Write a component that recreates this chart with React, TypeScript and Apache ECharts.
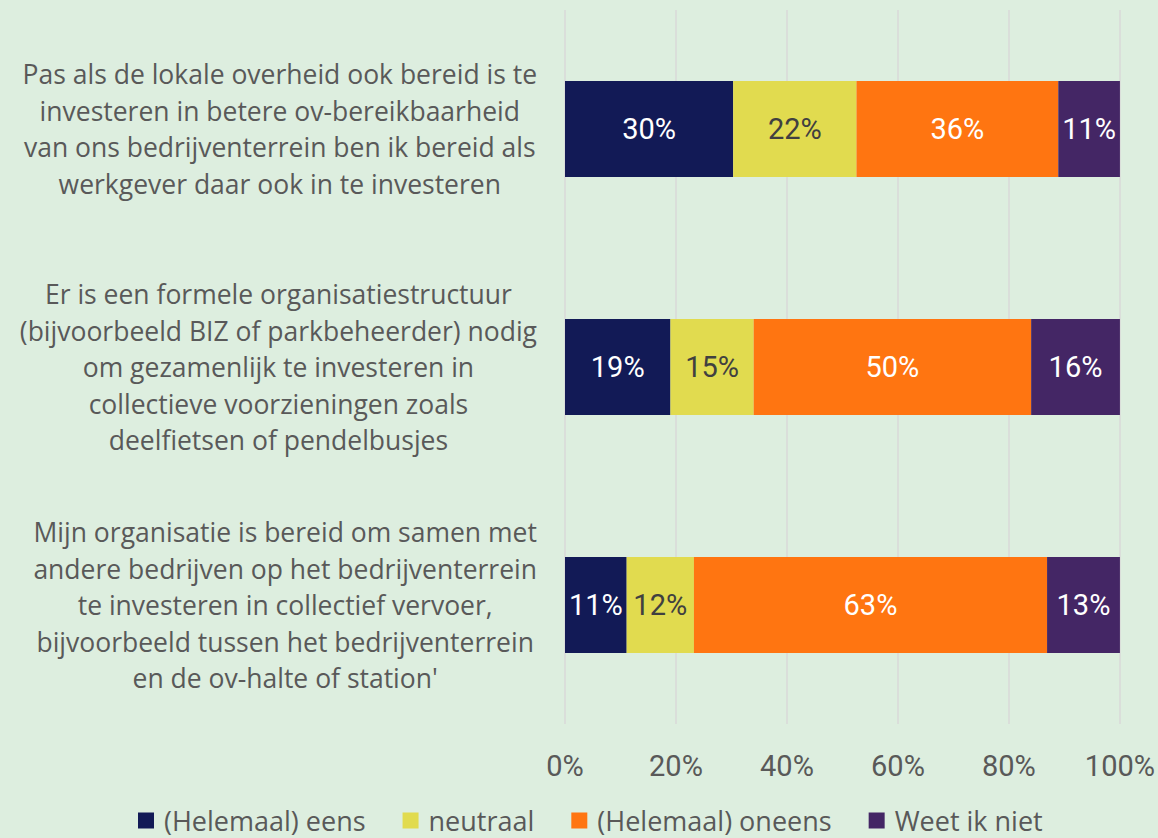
import React, { useEffect, useRef } from "react";
import * as echarts from "echarts";

const categories = [
  "Pas als de lokale overheid ook bereid is te\ninvesteren in betere ov-bereikbaarheid\nvan ons bedrijventerrein ben ik bereid als\nwerkgever daar ook in te investeren",
  "Er is een formele organisatiestructuur\n(bijvoorbeeld BIZ of parkbeheerder) nodig\nom gezamenlijk te investeren in\ncollectieve voorzieningen zoals\ndeelfietsen of pendelbusjes",
  "Mijn organisatie is bereid om samen met\nandere bedrijven op het bedrijventerrein\nte investeren in collectief vervoer,\nbijvoorbeeld tussen het bedrijventerrein\nen de ov-halte of station'",
];

const seriesNames = ["(Helemaal) eens", "neutraal", "(Helemaal) oneens", "Weet ik niet"];
const eens = [30, 19, 11];
const neutraal = [22, 15, 12];
const oneens = [36, 50, 63];
const weetNiet = [11, 16, 13];

const xTicks = [0, 20, 40, 60, 80, 100];

const colors = ["#121A56", "#E1DB4F", "#FF7511", "#442665"];
const labelColors = ["#FFFFFF", "#404040", "#FFFFFF", "#FFFFFF"];

export default function App() {
  const ref = useRef<HTMLDivElement>(null);
  useEffect(() => {
    document.body.style.margin = "0";
    if (!ref.current) return;
    const chart = echarts.init(ref.current, undefined, { renderer: "svg" });
    const raw = [eens, neutraal, oneens, weetNiet];
    const totals = categories.map((_, i) => raw.reduce((s, arr) => s + arr[i], 0));
    const textFont = "'Open Sans', Roboto, sans-serif";
    const numFont = "Roboto, 'Open Sans', sans-serif";
    const textColor = "#595959";
    chart.setOption({
      animation: false,
      backgroundColor: "#DDEEDF",
      textStyle: { fontFamily: textFont },
      grid: { left: 565, right: 37.5, top: 10, bottom: 114, containLabel: false },
      legend: {
        data: seriesNames,
        left: 138,
        top: 807,
        padding: 0,
        itemWidth: 16,
        itemHeight: 16,
        itemGap: 37,
        icon: "rect",
        textStyle: {
          fontSize: 27,
          lineHeight: 26,
          color: textColor,
          fontFamily: textFont,
          padding: [0, 0, 0, 5],
        },
      },
      xAxis: {
        type: "value",
        min: xTicks[0],
        max: xTicks[xTicks.length - 1],
        interval: 20,
        axisLine: { show: false },
        axisTick: { show: false },
        splitLine: { show: true, lineStyle: { color: "#D9D9D9", width: 1.5 } },
        axisLabel: {
          formatter: "{value}%",
          fontSize: 29,
          color: textColor,
          margin: 27,
          fontFamily: numFont,
        },
      },
      yAxis: {
        type: "category",
        inverse: true,
        data: categories,
        axisLine: { show: false },
        axisTick: { show: false },
        splitLine: { show: false },
        axisLabel: {
          margin: 28,
          align: "right",
          formatter: (v: string) => v.split("\n").map((l) => `{c|${l}}`).join("\n"),
          rich: {
            c: { align: "center", fontSize: 26.5, lineHeight: 36.5, color: textColor, fontFamily: textFont },
          },
        },
      },
      series: raw.map((arr, si) => ({
        name: seriesNames[si],
        type: "bar",
        stack: "total",
        barWidth: 96,
        itemStyle: { color: colors[si] },
        label: {
          show: true,
          position: "inside",
          fontSize: 29,
          color: labelColors[si],
          fontFamily: numFont,
          formatter: (p: any) => `${arr[p.dataIndex]}%`,
        },
        data: arr.map((v, i) => (v / totals[i]) * 100),
      })),
    });
    return () => chart.dispose();
  }, []);
  return <div ref={ref} style={{ width: 1158, height: 838 }} />;
}
